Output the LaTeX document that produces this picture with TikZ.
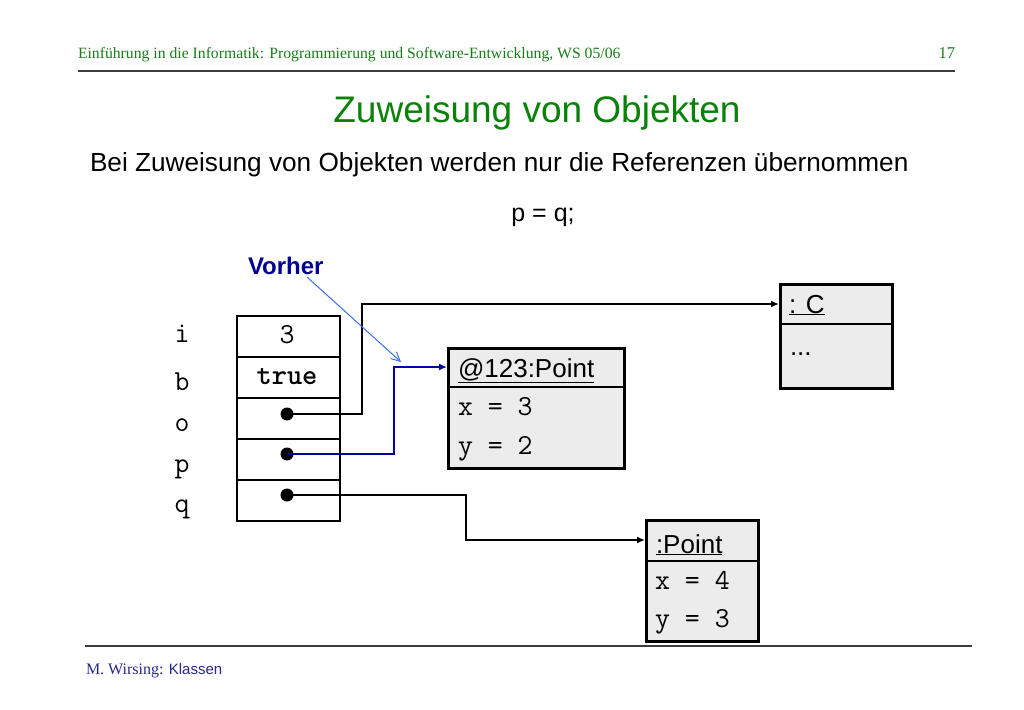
\documentclass[tikz,border=0pt]{standalone}
\usepackage{fontspec}
\setmainfont{Liberation Serif}
\setsansfont{Liberation Sans}
\usetikzlibrary{arrows.meta}
\definecolor{hdrgreen}{RGB}{25,125,25}
\definecolor{titlegreen}{RGB}{10,130,10}
\definecolor{navy}{RGB}{0,0,150}
\definecolor{linkblue}{RGB}{0,0,175}
\definecolor{lightblue}{RGB}{60,110,240}
\definecolor{boxfill}{RGB}{236,236,236}
\definecolor{rulegray}{RGB}{60,60,60}
\definecolor{footblue}{RGB}{40,40,140}
\newcommand{\myfs}[1]{\fontsize{#1}{#1}\selectfont}
\tikzset{
  txt/.style={inner sep=0pt, outer sep=0pt, anchor=base west},
  code/.style={txt, font=\ttfamily\myfs{29}},
  objbox/.style={draw, line width=3pt, fill=boxfill, inner sep=0pt, anchor=north west},
  cell/.style={draw, line width=1.6pt, minimum width=103pt, minimum height=41pt, inner sep=0pt, anchor=north west},
  dotnode/.style={circle, fill=black, minimum size=13pt, inner sep=0pt},
  conn/.style={line width=1.8pt, -{Latex[length=8pt,width=7pt]}},
}
\begin{document}
\begin{tikzpicture}[x=1pt,y=-1pt]
\useasboundingbox[fill=white] (0,0) rectangle (1024,709);
% header
\node[txt, text=hdrgreen, font=\rmfamily\myfs{15.7}] (hdr) at (78,59) {Einführung in die Informatik: Programmierung und Software-Entwicklung, WS 05/06};
\node[txt, anchor=base east, text=hdrgreen, font=\rmfamily\myfs{16.5}] (pg) at (955,59) {17};
\draw[rulegray, line width=2pt] (78,71) -- (955,71);
% title
\node[txt, anchor=base, text=titlegreen, font=\sffamily\myfs{37}] (title) at (537,122) {Zuweisung von Objekten};
\node[txt, font=\sffamily\myfs{26.2}] (sub) at (90,171) {Bei Zuweisung von Objekten werden nur die Referenzen übernommen};
\node[txt, anchor=base, font=\sffamily\myfs{25}] (assign) at (543,221) {p = q;};
\node[txt, text=navy, font=\sffamily\bfseries\myfs{24}] (vorher) at (248,274) {Vorher};
% variable cells
\node[cell] (ci) at (236,315) {};
\node[cell] (cb) at (236,356) {};
\node[cell] (co) at (236,397) {};
\node[cell] (cp) at (236,438) {};
\node[cell] (cq) at (236,479) {};
\node[code, anchor=base] (vi) at (287,343) {3};
\node[code, anchor=base, font=\ttfamily\bfseries\myfs{29}] (vb) at (287,384) {true};
\node[code, anchor=base] (li) at (182,342) {i};
\node[code, anchor=base] (lb) at (182,390) {b};
\node[code, anchor=base] (lo) at (182,431) {o};
\node[code, anchor=base] (lp) at (182,472) {p};
\node[code, anchor=base] (lq) at (182,512) {q};
\node[dotnode] (do) at (287,414) {};
\node[dotnode] (dp) at (287,454) {};
\node[dotnode] (dq) at (287,495) {};
% object boxes
\node[objbox, minimum width=176pt, minimum height=120pt] (obj1) at (447,347) {};
\draw[line width=1.6pt] (obj1.west |- 0,387) -- (obj1.east |- 0,387);
\node[txt, font=\sffamily\myfs{26}] (obj1t) at (458,377) {\underline{@123:Point}};
\node[code] (obj1x) at (458,415) {x = 3};
\node[code] (obj1y) at (458,454) {y = 2};
\node[objbox, minimum width=112pt, minimum height=104pt] (objc) at (779,283) {};
\draw[line width=1.6pt] (objc.west |- 0,324) -- (objc.east |- 0,324);
\node[txt, font=\sffamily\myfs{26}] (objct) at (789,313) {\underline{: C}};
\node[txt, font=\sffamily\myfs{26}] (objcd) at (790,355) {...};
\node[objbox, minimum width=112pt, minimum height=121pt] (obj2) at (645,519) {};
\draw[line width=1.6pt] (obj2.west |- 0,561) -- (obj2.east |- 0,561);
\node[txt, font=\sffamily\myfs{26}] (obj2t) at (656,553) {\underline{:Point}};
\node[code] (obj2x) at (655,589) {x = 4};
\node[code] (obj2y) at (655,627) {y = 3};
% connectors
\coordinate (bo) at (362,304);
\coordinate (bp) at (394,367);
\coordinate (bq) at (466,540);
\draw[conn] (do.center) -| (bo) -- (bo -| objc.west);
\draw[conn, linkblue] (dp.center) -| (bp) -- (bp -| obj1.west);
\draw[conn] (dq.center) -| (bq) -- (bq -| obj2.west);
\coordinate (vtip) at (401,362);
\draw[lightblue, line width=1pt, -{Straight Barb[length=9pt,width=9pt]}] (307,277) -- (vtip);
% footer
\draw[rulegray, line width=2pt] (85,646) -- (972,646);
\node[txt, text=footblue] (foot) at (86,674) {{\rmfamily\myfs{16}M. Wirsing: }{\sffamily\myfs{15}Klassen}};
\end{tikzpicture}
\end{document}
